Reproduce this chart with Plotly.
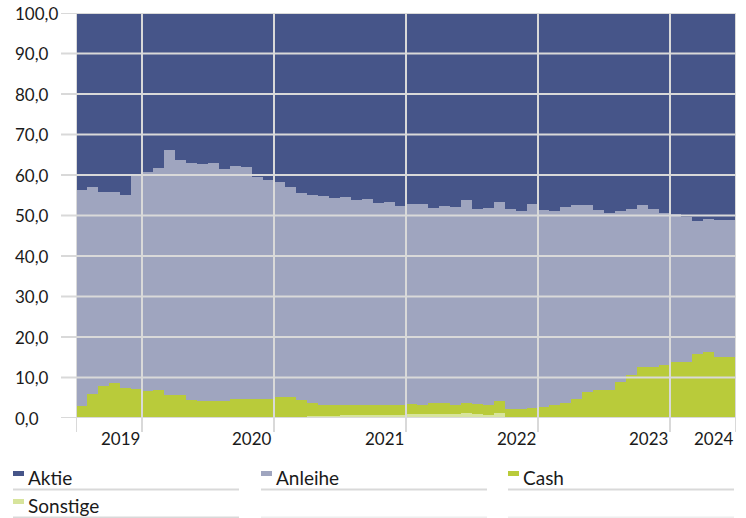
import plotly.graph_objects as go

# ---- data (monthly, Jul 2019 - Jun 2024), percent ----
months = [f"{y}-{m:02d}" for y in range(2019, 2025) for m in range(1, 13)][6:66]

sonstige = [0.1, 0.1, 0.1, 0.1, 0.1, 0.1,
            0.15, 0.15, 0.15, 0.15, 0.15, 0.15, 0.15, 0.15, 0.2, 0.2, 0.2, 0.2,
            0.3, 0.3, 0.3, 0.5, 0.5, 0.5, 0.8, 0.8, 0.8, 0.8, 0.8, 0.8,
            0.9, 0.9, 0.9, 0.9, 0.9, 1.2, 1.0, 0.7, 1.2, 0.0, 0.0, 0.0,
            0.0, 0.0, 0.0, 0.0, 0.0, 0.0, 0.0, 0.0, 0.0, 0.0, 0.0, 0.0,
            0.0, 0.0, 0.0, 0.0, 0.0, 0.0]
cash = [2.8, 5.9, 7.8, 8.6, 7.4, 7.1,
        6.45, 6.65, 5.45, 5.65, 4.35, 4.05, 3.95, 3.95, 4.6, 4.4, 4.4, 4.5,
        4.8, 5.0, 4.1, 3.1, 2.7, 2.7, 2.4, 2.5, 2.4, 2.5, 2.5, 2.4,
        2.6, 2.3, 2.7, 2.7, 2.4, 2.6, 2.4, 2.4, 3.0, 2.3, 2.3, 2.4,
        2.6, 3.3, 3.8, 4.7, 6.4, 7.0, 7.0, 8.8, 10.7, 12.6, 12.6, 13.0,
        13.8, 13.9, 15.7, 16.3, 15.1, 15.1]
anleihe = [53.4, 51.0, 48.0, 47.2, 47.5, 52.7,
           54.1, 54.9, 60.6, 57.9, 58.5, 58.6, 58.9, 57.5, 57.4, 57.4, 55.0, 54.0,
           53.2, 51.7, 51.1, 51.5, 51.7, 51.1, 51.4, 50.6, 50.9, 49.8, 50.0, 49.1,
           49.3, 49.7, 48.3, 48.7, 48.8, 50.0, 48.3, 48.8, 49.2, 49.4, 48.9, 50.4,
           48.8, 47.8, 48.4, 47.9, 46.2, 44.4, 43.5, 42.3, 40.8, 40.0, 39.0, 37.6,
           36.5, 35.8, 32.9, 32.8, 33.9, 33.8]
aktie = [43.7, 43.0, 44.1, 44.1, 45.0, 40.1,
         39.3, 38.3, 33.8, 36.3, 37.0, 37.2, 37.0, 38.4, 37.8, 38.0, 40.4, 41.3,
         41.7, 43.0, 44.5, 44.9, 45.1, 45.7, 45.4, 46.1, 45.9, 46.9, 46.7, 47.7,
         47.2, 47.1, 48.1, 47.7, 47.9, 46.2, 48.3, 48.1, 46.6, 48.3, 48.8, 47.2,
         48.6, 48.9, 47.8, 47.4, 47.4, 48.6, 49.5, 48.9, 48.5, 47.4, 48.4, 49.4,
         49.7, 50.3, 51.4, 50.9, 51.0, 51.1]

series_names = ["Aktie", "Anleihe", "Cash", "Sonstige"]
series_colors = ["#465589", "#9fa5bf", "#b9cb3a", "#d7e49c"]

year_labels = ["2019", "2020", "2021", "2022", "2023", "2024"]
year_label_pos = [3.5, 15.5, 27.5, 39.5, 51.5, 57.5]
year_bounds = [-0.5, 5.5, 17.5, 29.5, 41.5, 53.5, 59.5]
y_ticks = [0, 10, 20, 30, 40, 50, 60, 70, 80, 90, 100]
y_tick_text = ["0,0", "10,0", "20,0", "30,0", "40,0", "50,0", "60,0", "70,0", "80,0", "90,0", "100,0"]

# ---- layout geometry (pixels) ----
W, H = 746, 518
L, R, T, B = 76, 10, 13, 100
PW, PH = W - L - R, H - T - B
def xp(px):
    return (px - L) / PW
def yp(py):
    return (H - B - py) / PH

FONT = "Lato"
GRID = "#d9d9d9"

fig = go.Figure()
stack = [("Sonstige", sonstige), ("Cash", cash), ("Anleihe", anleihe), ("Aktie", aktie)]
for name, vals in stack:
    col = series_colors[series_names.index(name)]
    fig.add_trace(go.Bar(x=months, y=vals, name=name, marker=dict(color=col, line=dict(width=0)),
                         showlegend=False))

shapes = []
# horizontal grid lines (above bars) extending left as ticks
for v in y_ticks:
    shapes.append(dict(type="line", layer="above", xref="paper", yref="y",
                       x0=xp(61), x1=1, y0=v, y1=v, line=dict(color=GRID, width=2)))
# vertical year boundary lines extending below as ticks
for b in year_bounds:
    shapes.append(dict(type="line", layer="above", xref="x", yref="paper",
                       x0=b, x1=b, y0=yp(432), y1=1, line=dict(color=GRID, width=2)))

annotations = []
for v, t in zip(y_ticks, y_tick_text):
    annotations.append(dict(text=t, xref="paper", yref="y", x=xp(13), y=v, xanchor="left",
                            yanchor="middle", showarrow=False, font=dict(family=FONT, size=17, color="#1a1a1a")))
for pos, t in zip(year_label_pos, year_labels):
    annotations.append(dict(text=t, xref="x", yref="paper", x=pos, y=yp(438), xanchor="center",
                            yanchor="middle", showarrow=False, font=dict(family=FONT, size=17, color="#1a1a1a")))

# custom legend: 3 columns
col_x = [13, 261, 508]
row_y = [473.5, 501.5]
for i, name in enumerate(series_names):
    c, r = i % 3, i // 3
    x0 = col_x[c]
    yc = row_y[r]
    shapes.append(dict(type="rect", xref="paper", yref="paper", x0=xp(x0), x1=xp(x0 + 11),
                       y0=yp(yc + 2.5), y1=yp(yc - 2.5), fillcolor=series_colors[i], line=dict(width=0)))
    annotations.append(dict(text=name, xref="paper", yref="paper", x=xp(x0 + 12.5), y=yp(yc + 3.5),
                            xanchor="left", yanchor="middle", showarrow=False,
                            font=dict(family=FONT, size=19, color="#1a1a1a")))
    shapes.append(dict(type="line", xref="paper", yref="paper", x0=xp(x0), x1=xp(x0 + 226),
                       y0=yp(yc + 16), y1=yp(yc + 16), line=dict(color=GRID, width=2)))
# second row underlines for empty columns
for c in [1, 2]:
    x0 = col_x[c]
    shapes.append(dict(type="line", xref="paper", yref="paper", x0=xp(x0), x1=xp(x0 + 226),
                       y0=yp(row_y[1] + 16), y1=yp(row_y[1] + 16), line=dict(color="#eeeeee", width=2)))

fig.update_layout(
    width=W, height=H,
    margin=dict(l=L, r=R, t=T, b=B),
    barmode="stack", bargap=0,
    plot_bgcolor="white", paper_bgcolor="white",
    showlegend=False,
    xaxis=dict(type="category", range=[-0.5, 59.5], showgrid=False, showticklabels=False,
               zeroline=False, ticks="", showline=False, fixedrange=True),
    yaxis=dict(range=[0, 100], showgrid=False, showticklabels=False, zeroline=False,
               ticks="", showline=False, fixedrange=True),
    shapes=shapes,
    annotations=annotations,
    font=dict(family=FONT),
)

fig.write_html("out.html", config={"displayModeBar": False},
               post_script="document.body.style.margin='0';document.body.style.overflow='hidden';")
